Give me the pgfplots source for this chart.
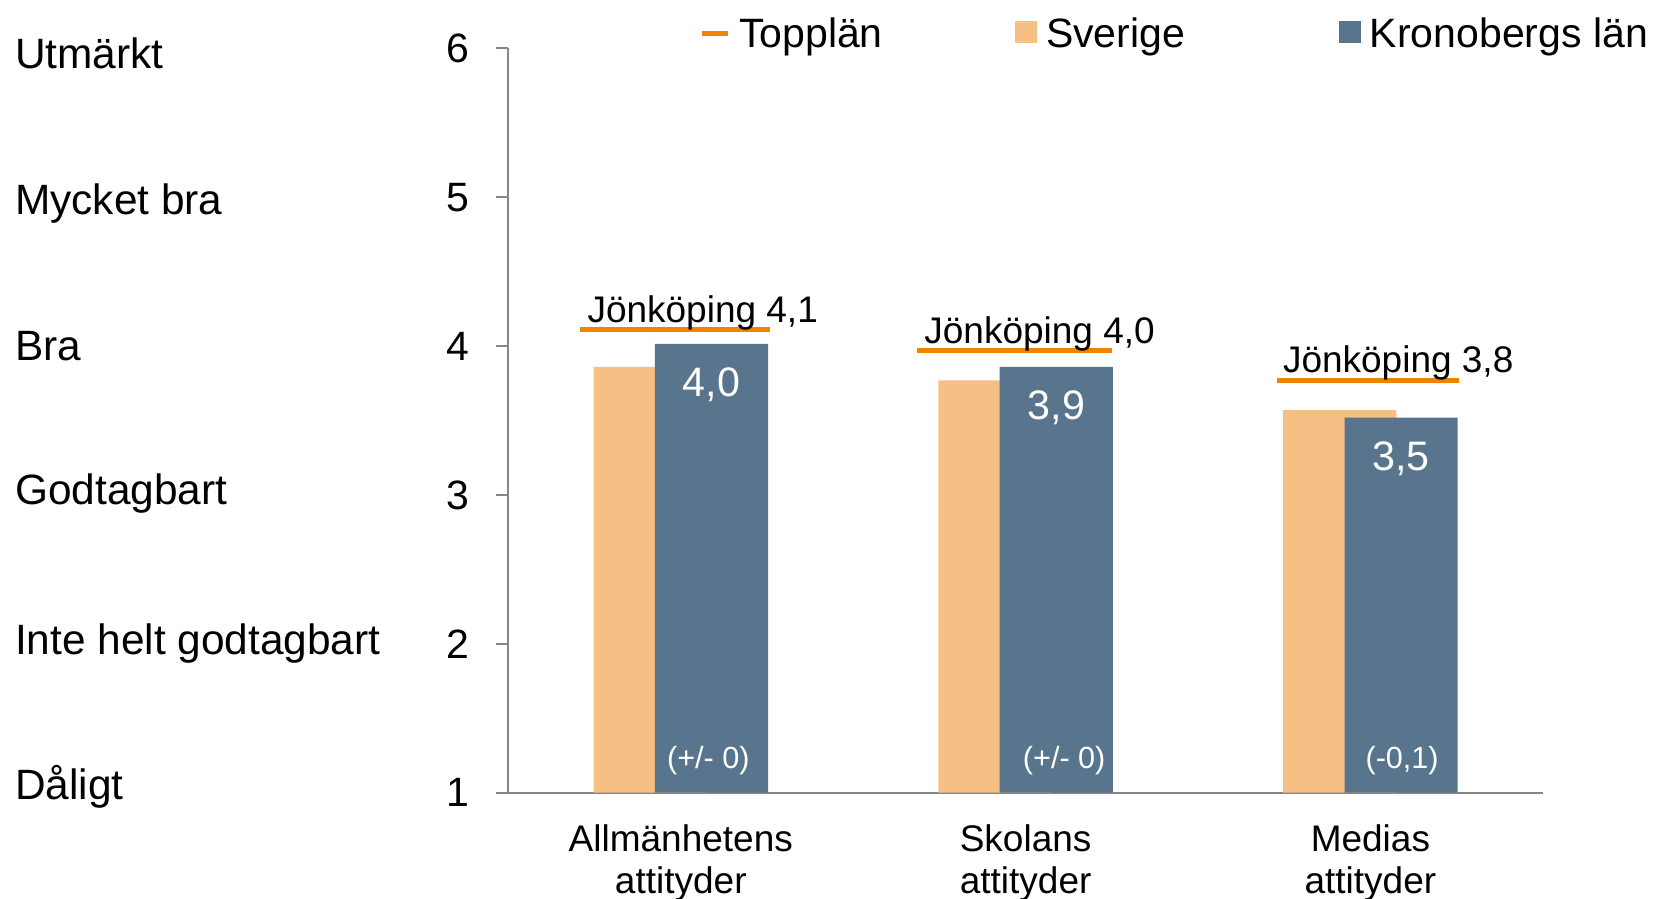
\documentclass[border=0pt]{standalone}
\usepackage{pgfplots}
\pgfplotsset{compat=1.18}
\usepackage{fontspec}
\setmainfont{Liberation Sans}

\definecolor{sverige}{HTML}{F6BF83}
\definecolor{kron}{HTML}{58758D}
\definecolor{topp}{HTML}{F08300}
\definecolor{axgray}{HTML}{868686}

\newcommand{\lblfont}{\fontsize{21.2bp}{25bp}\selectfont}
\newcommand{\catfont}{\fontsize{18.5bp}{20.8bp}\selectfont}

\begin{document}
\begin{tikzpicture}
\useasboundingbox (0,0) rectangle (831bp,449.5bp);
\begin{axis}[
  at={(254.2bp,53.15bp)}, anchor=south west,
  width=517.2bp, height=372.2bp, scale only axis,
  xmin=0, xmax=3, ymin=1, ymax=6,
  axis x line*=bottom, axis y line*=left,
  axis line style={axgray, line width=1bp},
  ytick={1,2,3,4,5,6},
  ytick style={axgray, line width=1bp},
  tick align=outside, major tick length=6.3bp,
  xtick={0.5,1.5,2.5},
  xtick style={draw=none},
  xticklabels={{Allmänhetens\\attityder},{Skolans\\attityder},{Medias\\attityder}},
  xticklabel style={align=center, font=\catfont, anchor=north, inner sep=0pt, yshift=-9.7bp},
  yticklabel style={anchor=east, inner sep=0pt, xshift=-12.9bp, font=\fontsize{20.5bp}{24bp}\selectfont},
  /pgf/number format/assume math mode=true,
  clip mode=individual,
  legend style={draw=none, fill=none, inner sep=0pt,
    at={(axis description cs:0.184,1.0197)}, anchor=west,
    legend columns=3, font=\fontsize{20.5bp}{24bp}\selectfont,
    nodes={inner sep=0pt},
    /tikz/every odd column/.append style={column sep=4.5bp}},
]
\addlegendimage{legend image code/.code={\draw[topp, line width=2.5bp] (0bp,0bp) -- (13bp,0bp);}}
\addlegendentry{\makebox[137.8bp][l]{Topplän}}
\addlegendimage{legend image code/.code={\fill[sverige] (0bp,-4.5bp) rectangle (10.8bp,6.3bp);}}
\addlegendentry{\makebox[146.2bp][l]{Sverige}}
\addlegendimage{legend image code/.code={\fill[kron] (0bp,-4.5bp) rectangle (10.8bp,6.3bp);}}
\addlegendentry{Kronobergs län}

% Sverige
\addplot[forget plot, ybar, bar width=0.328, bar shift=-0.089, fill=sverige, draw=none]
  coordinates {(0.5,3.86) (1.5,3.77) (2.5,3.57)};
% Kronobergs län
\addplot[forget plot, ybar, bar width=0.328, bar shift=0.089, fill=kron, draw=none]
  coordinates {(0.5,4.015) (1.5,3.86) (2.5,3.52)};
% Topplän (Jönköping)
\addplot[forget plot, topp, line width=2.5bp, unbounded coords=jump]
  coordinates {(0.208,4.114) (0.760,4.114) (0.760,nan)
               (1.185,3.967) (1.752,3.967) (1.752,nan)
               (2.228,3.767) (2.757,3.767)};

\node[anchor=base west, inner sep=0pt, font=\catfont, xshift=3.5bp, yshift=3.5bp] at (axis cs:0.208,4.114) {Jönköping 4,1};
\node[anchor=base west, inner sep=0pt, font=\catfont, xshift=3.5bp, yshift=3.75bp] at (axis cs:1.185,3.967) {Jönköping 4,0};
\node[anchor=base west, inner sep=0pt, font=\catfont, xshift=3bp, yshift=4.25bp] at (axis cs:2.228,3.767) {Jönköping 3,8};

\node[anchor=base, inner sep=0pt, white, font=\fontsize{20.6bp}{24bp}\selectfont, yshift=-26.5bp] at (axis cs:0.589,4.015) {4,0};
\node[anchor=base, inner sep=0pt, white, font=\fontsize{20.6bp}{24bp}\selectfont, yshift=-26.5bp] at (axis cs:1.589,3.86) {3,9};
\node[anchor=base, inner sep=0pt, white, font=\fontsize{20.6bp}{24bp}\selectfont, yshift=-26.5bp] at (axis cs:2.589,3.52) {3,5};

\node[anchor=base, inner sep=0pt, white, font=\fontsize{15.3bp}{18bp}\selectfont, yshift=12.2bp] at (axis cs:0.580,1) {(+/- 0)};
\node[anchor=base, inner sep=0pt, white, font=\fontsize{15.3bp}{18bp}\selectfont, yshift=12.2bp] at (axis cs:1.612,1) {(+/- 0)};
\node[anchor=base, inner sep=0pt, white, font=\fontsize{15.3bp}{18bp}\selectfont, yshift=12.2bp] at (axis cs:2.592,1) {(-0,1)};
\end{axis}

% verbal scale on the left
\node[anchor=base west, inner sep=0pt, font=\lblfont] at (7.35bp,415.35bp) {Utmärkt};
\node[anchor=base west, inner sep=0pt, font=\lblfont] at (7.35bp,342bp) {Mycket bra};
\node[anchor=base west, inner sep=0pt, font=\lblfont] at (7.35bp,269bp) {Bra};
\node[anchor=base west, inner sep=0pt, font=\lblfont] at (7.35bp,197bp) {Godtagbart};
\node[anchor=base west, inner sep=0pt, font=\lblfont] at (7.35bp,122bp) {Inte helt godtagbart};
\node[anchor=base west, inner sep=0pt, font=\lblfont] at (7.35bp,49.5bp) {Dåligt};
\end{tikzpicture}
\end{document}
